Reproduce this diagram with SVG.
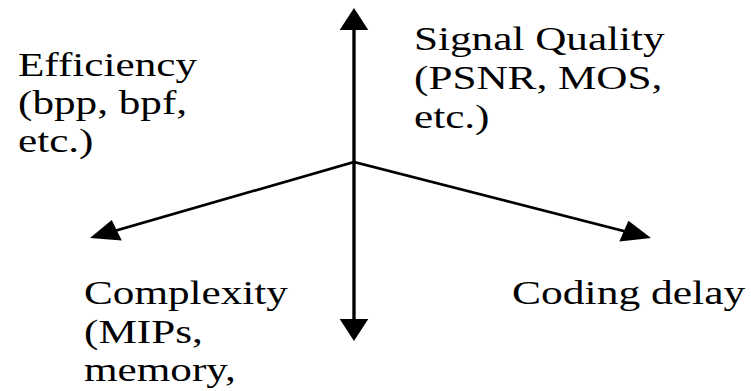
<svg xmlns="http://www.w3.org/2000/svg" width="751" height="391" viewBox="0 0 751 391">
  <style>
    .axis { stroke: #000; stroke-width: 2.6; fill: none; }
    .lbl { font-family: "Liberation Serif", "Times New Roman", serif; font-size: 34px; fill: #000; }
  </style>
  <defs>
    <marker id="head" markerUnits="userSpaceOnUse" markerWidth="22" markerHeight="22" refX="14" refY="11" orient="auto" overflow="visible">
      <path d="M0,0 L22,11 L0,22 Z" fill="#000"/>
    </marker>
  </defs>
  <rect width="751" height="391" fill="#fff"/>

  <!-- four axes radiating from the common origin; drawn widened 1.3x horizontally -->
  <g id="connectors" transform="scale(1.3,1)">
    <line class="axis" x1="272.3" y1="162" x2="272.3" y2="16" marker-end="url(#head)"/>
    <line class="axis" x1="272.3" y1="162" x2="272.3" y2="333" marker-end="url(#head)"/>
    <line class="axis" x1="272.3" y1="162" x2="76.7" y2="235.2" marker-end="url(#head)"/>
    <line class="axis" x1="272.3" y1="162" x2="493.2" y2="235.5" marker-end="url(#head)"/>
  </g>

  <g id="efficiency">
    <text class="lbl" transform="translate(18,76) scale(1.27,1)">
      <tspan x="0" y="0">Efficiency</tspan>
      <tspan x="0" y="38">(bpp, bpf,</tspan>
      <tspan x="0" y="76">etc.)</tspan>
    </text>
  </g>

  <g id="signal-quality">
    <text class="lbl" transform="translate(414,50) scale(1.27,1)">
      <tspan x="0" y="0">Signal Quality</tspan>
      <tspan x="0" y="39">(PSNR, MOS,</tspan>
      <tspan x="0" y="78">etc.)</tspan>
    </text>
  </g>

  <g id="complexity">
    <text class="lbl" transform="translate(84,304) scale(1.27,1)">
      <tspan x="0" y="0">Complexity</tspan>
      <tspan x="0" y="39">(MIPs,</tspan>
      <tspan x="0" y="77">memory,</tspan>
    </text>
  </g>

  <g id="coding-delay">
    <text class="lbl" transform="translate(512,304) scale(1.28,1)">Coding delay</text>
  </g>
</svg>
